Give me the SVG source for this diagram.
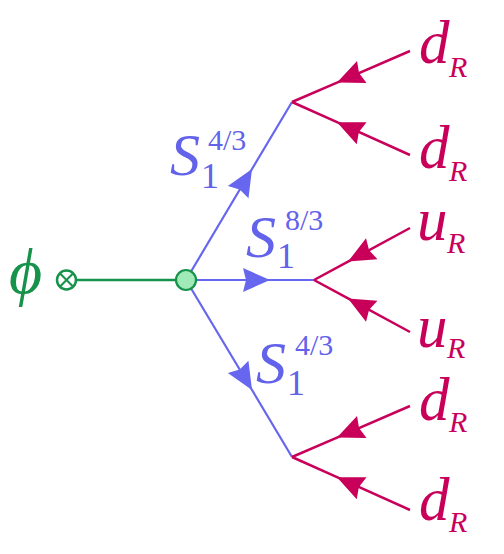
<svg xmlns="http://www.w3.org/2000/svg" width="504" height="554" viewBox="0 0 504 554">
<style>
.blue{stroke:#6666ee;stroke-width:2.2;fill:none}
.red{stroke:#c8005a;stroke-width:2.5;fill:none}
.green{stroke:#16924a;stroke-width:2.5;fill:none}
.it{font-family:"Liberation Serif","DejaVu Serif",serif;font-style:italic}
.rm{font-family:"Liberation Serif","DejaVu Serif",serif}
.tb{fill:#6262ea}
.tr{fill:#c8005a}
.tg{fill:#16924a}
.big{font-size:60px}
.sub{font-size:30px}
.one{font-size:36px}
.sup{font-size:30px}
</style>
<defs>
<marker id="ab" markerUnits="userSpaceOnUse" markerWidth="30" markerHeight="30" orient="auto" overflow="visible" refX="0" refY="0">
<path d="M0,0 L-27,-12 L-24,0 L-27,12 Z" fill="#6666ee"/>
</marker>
<marker id="ar" markerUnits="userSpaceOnUse" markerWidth="30" markerHeight="30" orient="auto" overflow="visible" refX="0" refY="0">
<path d="M0,0 L-27,-12 L-24,0 L-27,12 Z" fill="#c8005a"/>
</marker>
</defs>
<g id="connectors">
<line class="green" x1="76.5" y1="280" x2="176" y2="280"/>
<polyline class="blue" points="186,280 252,169 292,102" marker-mid="url(#ab)"/>
<polyline class="blue" points="186,280 270,280 315,280" marker-mid="url(#ab)"/>
<polyline class="blue" points="186,280 252,390 292,457" marker-mid="url(#ab)"/>
<polyline class="red" points="410,51 337,82.6 292,102" marker-mid="url(#ar)"/>
<polyline class="red" points="410,155 337,122.2 292,102" marker-mid="url(#ar)"/>
<polyline class="red" points="410,228 348,261.6 314,280" marker-mid="url(#ar)"/>
<polyline class="red" points="410,332 348,298.4 314,280" marker-mid="url(#ar)"/>
<polyline class="red" points="410,406 337,437.6 292,457" marker-mid="url(#ar)"/>
<polyline class="red" points="410,510 337,477.2 292,457" marker-mid="url(#ar)"/>
</g>
<g id="phi">
<text class="it tg" x="9" y="293" font-size="64">ϕ</text>
</g>
<g id="source">
<circle cx="66.5" cy="280" r="9.5" class="green" stroke-width="2"/>
<line x1="59.8" y1="273.3" x2="73.2" y2="286.7" stroke="#16924a" stroke-width="2"/>
<line x1="59.8" y1="286.7" x2="73.2" y2="273.3" stroke="#16924a" stroke-width="2"/>
</g>
<g id="vertex">
<circle cx="186" cy="280" r="10" fill="#a0eab8" stroke="#16924a" stroke-width="2.2"/>
</g>
<g id="label-S-upper">
<text class="it tb big" x="170" y="175">S</text>
<text class="rm tb one" x="201" y="188">1</text>
<text class="rm tb sup" x="208" y="150">4/3</text>
</g>
<g id="label-S-middle">
<text class="it tb big" x="246" y="257">S</text>
<text class="rm tb one" x="277" y="268">1</text>
<text class="rm tb sup" x="285" y="230">8/3</text>
</g>
<g id="label-S-lower">
<text class="it tb big" x="256" y="383">S</text>
<text class="rm tb one" x="287" y="395">1</text>
<text class="rm tb sup" x="295" y="355">4/3</text>
</g>
<g id="label-dR-1"><text class="it tr" x="419" y="63" font-size="61">d</text><text class="it tr sub" x="449" y="77">R</text></g>
<g id="label-dR-2"><text class="it tr" x="419" y="168" font-size="61">d</text><text class="it tr sub" x="449" y="181">R</text></g>
<g id="label-uR-1"><text class="it tr" x="417" y="240" font-size="61">u</text><text class="it tr sub" x="447" y="253">R</text></g>
<g id="label-uR-2"><text class="it tr" x="417" y="347" font-size="61">u</text><text class="it tr sub" x="447" y="358">R</text></g>
<g id="label-dR-3"><text class="it tr" x="419" y="420" font-size="61">d</text><text class="it tr sub" x="449" y="432">R</text></g>
<g id="label-dR-4"><text class="it tr" x="419" y="520" font-size="61">d</text><text class="it tr sub" x="449" y="532">R</text></g>
</svg>
